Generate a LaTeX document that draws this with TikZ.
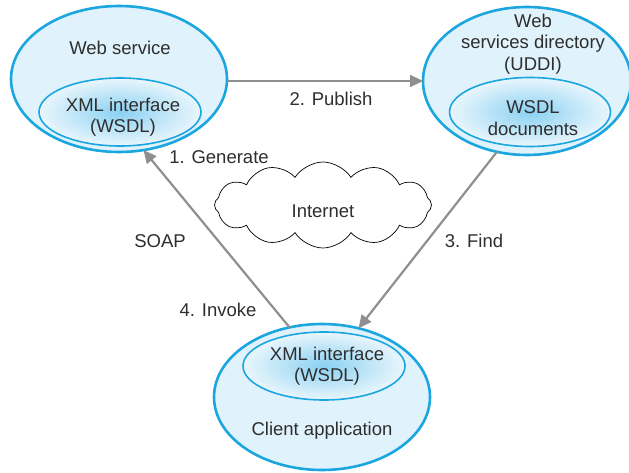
\documentclass[tikz,border=0pt]{standalone}
\usepackage{fontspec}
\setmainfont{Liberation Sans}
\usetikzlibrary{positioning, calc, shapes.geometric, shapes.symbols, arrows.meta}

\definecolor{ringblue}{HTML}{1BA6E0}
\definecolor{paleblue}{HTML}{E0F2FB}
\definecolor{midblue}{HTML}{8AD1F2}
\definecolor{linegray}{HTML}{8F8F8F}
\definecolor{textgray}{HTML}{2E2E2E}

\begin{document}
\begin{tikzpicture}[
    x=1pt, y=-1pt,
    % 定义样式
    lbl/.style={font=\fontsize{18.5}{21.5}\selectfont, text=textgray, align=center, inner sep=0pt},
    outer/.style={ellipse, draw=ringblue, line width=2.6pt, fill=paleblue, inner sep=0pt, outer sep=0pt},
    inner/.style={ellipse, draw=ringblue, line width=1.6pt, inner color=midblue, outer color=paleblue!70, inner sep=0pt, outer sep=0pt},
    net/.style={cloud, cloud puffs=12, cloud puff arc=115, aspect=2.5, draw=black, line width=0.7pt, fill=white, inner sep=0pt},
    arrow/.style={-{Triangle[length=13pt, width=12pt]}, line width=2.2pt, color=linegray}
]
\useasboundingbox (0,0) rectangle (629,473);

% --- 绘制节点 ---
% Web service
\node[outer, minimum width=216pt, minimum height=146pt] (ws) at (119,79) {};
\node[inner, minimum width=162pt, minimum height=68pt] (wsxml) at (120,112) {};
\node[lbl] (wstitle) at (120,48) {Web service};
\node[lbl] (wsxmltext) at (123,117) {XML interface\\(WSDL)};

% Web services directory
\node[outer, minimum width=208pt, minimum height=148pt] (dir) at (527,81) {};
\node[inner, minimum width=161pt, minimum height=69pt] (wsdl) at (530,112) {};
\node[lbl] (dirtitle) at (533,44) {Web\\services directory\\(UDDI)};
\node[lbl] (wsdltext) at (533,118) {WSDL\\documents};

% Client application
\node[outer, minimum width=216pt, minimum height=146pt] (client) at (322,397) {};
\node[inner, minimum width=162pt, minimum height=68pt] (clxml) at (324,366) {};
\node[lbl] (clxmltext) at (327,366) {XML interface\\(WSDL)};
\node[lbl] (cltitle) at (322,431) {Client application};

% Internet
\node[net, minimum width=217pt, minimum height=86pt] (internet) at (323,205) {};
\node[lbl] (nettext) at (323,211) {Internet};

% --- 绘制连接线 ---
\draw[arrow] (ws.east |- dir.west) -- (dir.west);
\draw[arrow] (dir.247) -- (client.62);
\draw[arrow] (client.115) -- (ws.-71);

% --- 标签 ---
\node[lbl] (publish) at (331,99) {2. Publish};
\node[lbl] (find) at (474,241) {3. Find};
\node[lbl] (generate) at (219,157) {1. Generate};
\node[lbl] (soap) at (160,241) {SOAP};
\node[lbl] (invoke) at (218,310) {4. Invoke};

\end{tikzpicture}
\end{document}
